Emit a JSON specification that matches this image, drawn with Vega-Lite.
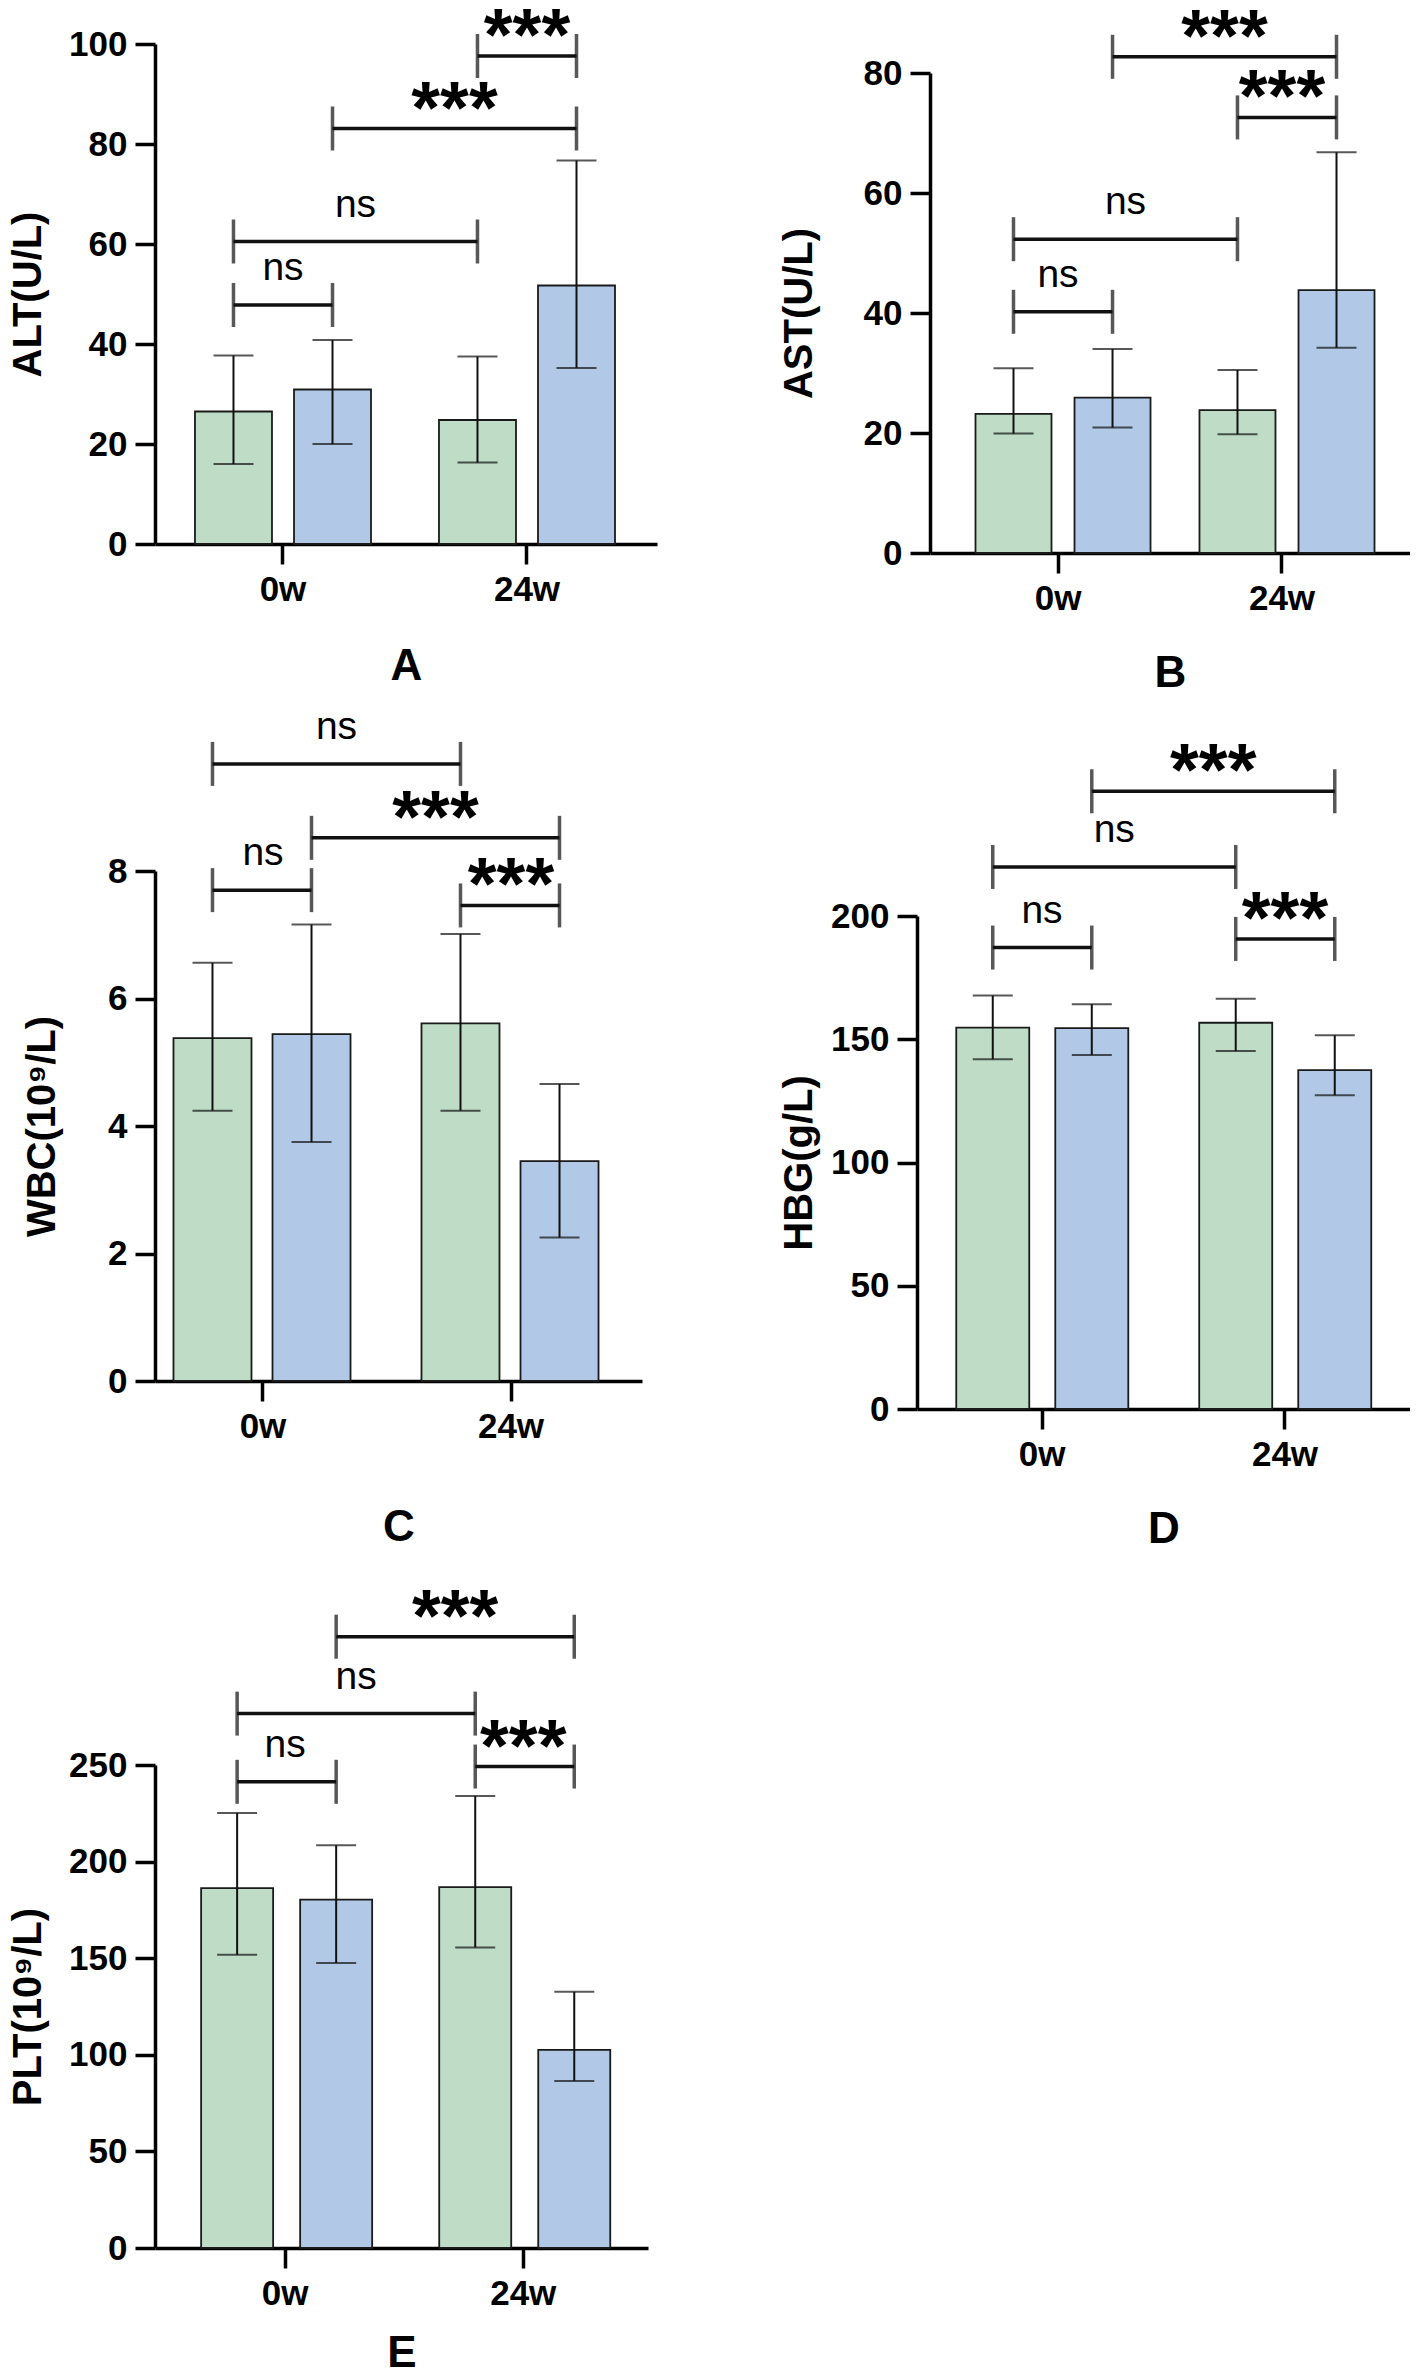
{
  "$schema": "https://vega.github.io/schema/vega-lite/v6.json",
  "background": "white",
  "padding": {"left": 8, "top": 0, "right": 0, "bottom": 0},
  "columns": 2,
  "align": "none",
  "spacing": {"row": 0, "column": 122},
  "config": {
    "view": {"stroke": null},
    "font": "Liberation Sans",
    "axis": {"domainColor": "#000", "domainWidth": 3.5, "tickColor": "#000", "tickWidth": 3.5, "tickSize": 20, "labelColor": "#000", "labelFont": "Liberation Sans", "labelFontSize": 35, "labelFontWeight": "bold", "labelPadding": 8, "titleColor": "#000", "titleFont": "Liberation Sans", "titleFontWeight": "bold", "grid": false, "labelOverlap": false, "labelFlush": false},
    "axisY": {"titleFontSize": 40, "format": "d"},
    "axisX": {"titleFontSize": 44, "labelAngle": 0}
  },
  "datasets": {
    "bars": [
      {"panel": "A", "time": "0w", "arm": "Group 1", "mean": 26.5, "lo": 16.0, "hi": 37.7},
      {"panel": "A", "time": "0w", "arm": "Group 2", "mean": 30.9, "lo": 20.0, "hi": 40.8},
      {"panel": "A", "time": "24w", "arm": "Group 1", "mean": 24.8, "lo": 16.3, "hi": 37.5},
      {"panel": "A", "time": "24w", "arm": "Group 2", "mean": 51.7, "lo": 35.2, "hi": 76.7},
      {"panel": "B", "time": "0w", "arm": "Group 1", "mean": 23.2, "lo": 19.9, "hi": 30.8},
      {"panel": "B", "time": "0w", "arm": "Group 2", "mean": 25.9, "lo": 20.9, "hi": 34.0},
      {"panel": "B", "time": "24w", "arm": "Group 1", "mean": 23.8, "lo": 19.8, "hi": 30.5},
      {"panel": "B", "time": "24w", "arm": "Group 2", "mean": 43.8, "lo": 34.2, "hi": 66.8},
      {"panel": "C", "time": "0w", "arm": "Group 1", "mean": 5.38, "lo": 4.24, "hi": 6.56},
      {"panel": "C", "time": "0w", "arm": "Group 2", "mean": 5.44, "lo": 3.75, "hi": 7.16},
      {"panel": "C", "time": "24w", "arm": "Group 1", "mean": 5.61, "lo": 4.24, "hi": 7.01},
      {"panel": "C", "time": "24w", "arm": "Group 2", "mean": 3.45, "lo": 2.25, "hi": 4.66},
      {"panel": "D", "time": "0w", "arm": "Group 1", "mean": 154.7, "lo": 141.9, "hi": 167.7},
      {"panel": "D", "time": "0w", "arm": "Group 2", "mean": 154.5, "lo": 143.6, "hi": 164.2},
      {"panel": "D", "time": "24w", "arm": "Group 1", "mean": 156.7, "lo": 145.2, "hi": 166.4},
      {"panel": "D", "time": "24w", "arm": "Group 2", "mean": 137.5, "lo": 127.3, "hi": 151.6},
      {"panel": "E", "time": "0w", "arm": "Group 1", "mean": 186.3, "lo": 151.8, "hi": 225.1},
      {"panel": "E", "time": "0w", "arm": "Group 2", "mean": 180.3, "lo": 147.5, "hi": 208.5},
      {"panel": "E", "time": "24w", "arm": "Group 1", "mean": 186.8, "lo": 155.6, "hi": 234.0},
      {"panel": "E", "time": "24w", "arm": "Group 2", "mean": 102.5, "lo": 86.5, "hi": 132.6}
    ],
    "brackets": [
      {"panel": "A", "id": "A1", "time": "0w", "arm": "Group 1", "level": 47.8},
      {"panel": "A", "id": "A1", "time": "0w", "arm": "Group 2", "level": 47.8},
      {"panel": "A", "id": "A2", "time": "0w", "arm": "Group 1", "level": 60.5},
      {"panel": "A", "id": "A2", "time": "24w", "arm": "Group 1", "level": 60.5},
      {"panel": "A", "id": "A3", "time": "0w", "arm": "Group 2", "level": 83.1},
      {"panel": "A", "id": "A3", "time": "24w", "arm": "Group 2", "level": 83.1},
      {"panel": "A", "id": "A4", "time": "24w", "arm": "Group 1", "level": 97.6},
      {"panel": "A", "id": "A4", "time": "24w", "arm": "Group 2", "level": 97.6},
      {"panel": "B", "id": "B1", "time": "0w", "arm": "Group 1", "level": 40.2},
      {"panel": "B", "id": "B1", "time": "0w", "arm": "Group 2", "level": 40.2},
      {"panel": "B", "id": "B2", "time": "0w", "arm": "Group 1", "level": 52.3},
      {"panel": "B", "id": "B2", "time": "24w", "arm": "Group 1", "level": 52.3},
      {"panel": "B", "id": "B3", "time": "24w", "arm": "Group 1", "level": 72.6},
      {"panel": "B", "id": "B3", "time": "24w", "arm": "Group 2", "level": 72.6},
      {"panel": "B", "id": "B4", "time": "0w", "arm": "Group 2", "level": 82.7},
      {"panel": "B", "id": "B4", "time": "24w", "arm": "Group 2", "level": 82.7},
      {"panel": "C", "id": "C1", "time": "0w", "arm": "Group 1", "level": 7.70},
      {"panel": "C", "id": "C1", "time": "0w", "arm": "Group 2", "level": 7.70},
      {"panel": "C", "id": "C2", "time": "24w", "arm": "Group 1", "level": 7.46},
      {"panel": "C", "id": "C2", "time": "24w", "arm": "Group 2", "level": 7.46},
      {"panel": "C", "id": "C3", "time": "0w", "arm": "Group 2", "level": 8.52},
      {"panel": "C", "id": "C3", "time": "24w", "arm": "Group 2", "level": 8.52},
      {"panel": "C", "id": "C4", "time": "0w", "arm": "Group 1", "level": 9.68},
      {"panel": "C", "id": "C4", "time": "24w", "arm": "Group 1", "level": 9.68},
      {"panel": "D", "id": "D1", "time": "0w", "arm": "Group 1", "level": 187.2},
      {"panel": "D", "id": "D1", "time": "0w", "arm": "Group 2", "level": 187.2},
      {"panel": "D", "id": "D2", "time": "24w", "arm": "Group 1", "level": 190.7},
      {"panel": "D", "id": "D2", "time": "24w", "arm": "Group 2", "level": 190.7},
      {"panel": "D", "id": "D3", "time": "0w", "arm": "Group 1", "level": 219.9},
      {"panel": "D", "id": "D3", "time": "24w", "arm": "Group 1", "level": 219.9},
      {"panel": "D", "id": "D4", "time": "0w", "arm": "Group 2", "level": 250.6},
      {"panel": "D", "id": "D4", "time": "24w", "arm": "Group 2", "level": 250.6},
      {"panel": "E", "id": "E1", "time": "0w", "arm": "Group 1", "level": 241.3},
      {"panel": "E", "id": "E1", "time": "0w", "arm": "Group 2", "level": 241.3},
      {"panel": "E", "id": "E2", "time": "24w", "arm": "Group 1", "level": 249.2},
      {"panel": "E", "id": "E2", "time": "24w", "arm": "Group 2", "level": 249.2},
      {"panel": "E", "id": "E3", "time": "0w", "arm": "Group 1", "level": 276.6},
      {"panel": "E", "id": "E3", "time": "24w", "arm": "Group 1", "level": 276.6},
      {"panel": "E", "id": "E4", "time": "0w", "arm": "Group 2", "level": 316.4},
      {"panel": "E", "id": "E4", "time": "24w", "arm": "Group 2", "level": 316.4}
    ],
    "labels": [
      {"panel": "A", "span": "0w", "arm": "both", "level": 47.8, "label": "ns"},
      {"panel": "A", "span": "0w–24w", "arm": "Group 1", "level": 60.5, "label": "ns"},
      {"panel": "A", "span": "0w–24w", "arm": "Group 2", "level": 83.1, "label": "***"},
      {"panel": "A", "span": "24w", "arm": "both", "level": 97.6, "label": "***"},
      {"panel": "B", "span": "0w", "arm": "both", "level": 40.2, "label": "ns"},
      {"panel": "B", "span": "0w–24w", "arm": "Group 1", "level": 52.3, "label": "ns"},
      {"panel": "B", "span": "24w", "arm": "both", "level": 72.6, "label": "***"},
      {"panel": "B", "span": "0w–24w", "arm": "Group 2", "level": 82.7, "label": "***"},
      {"panel": "C", "span": "0w", "arm": "both", "level": 7.70, "label": "ns"},
      {"panel": "C", "span": "24w", "arm": "both", "level": 7.46, "label": "***"},
      {"panel": "C", "span": "0w–24w", "arm": "Group 2", "level": 8.52, "label": "***"},
      {"panel": "C", "span": "0w–24w", "arm": "Group 1", "level": 9.68, "label": "ns"},
      {"panel": "D", "span": "0w", "arm": "both", "level": 187.2, "label": "ns"},
      {"panel": "D", "span": "24w", "arm": "both", "level": 190.7, "label": "***"},
      {"panel": "D", "span": "0w–24w", "arm": "Group 1", "level": 219.9, "label": "ns"},
      {"panel": "D", "span": "0w–24w", "arm": "Group 2", "level": 250.6, "label": "***"},
      {"panel": "E", "span": "0w", "arm": "both", "level": 241.3, "label": "ns"},
      {"panel": "E", "span": "24w", "arm": "both", "level": 249.2, "label": "***"},
      {"panel": "E", "span": "0w–24w", "arm": "Group 1", "level": 276.6, "label": "ns"},
      {"panel": "E", "span": "0w–24w", "arm": "Group 2", "level": 316.4, "label": "***"}
    ]
  },
  "concat": [
    {"width": 1, "height": 1, "data": {"values": []}, "mark": "point"},
    {"width": 1, "height": 1, "data": {"values": []}, "mark": "point"},
    {
      "width": 502, "height": 500,
      "encoding": {"x": {"field": "time", "type": "nominal", "scale": {"domain": ["0w", "0w–24w", "24w"], "paddingInner": 0, "paddingOuter": 0.5574, "align": 0.4926}, "axis": {"values": ["0w", "24w"], "title": ["A", ""], "titlePadding": 37, "titleLineHeight": 19}}},
      "layer": [
        {"data": {"name": "bars"}, "transform": [{"filter": "datum.panel === 'A'"}],
         "mark": {"type": "bar", "width": 77, "stroke": "#1a1a1a", "strokeWidth": 1.8},
         "encoding": {"xOffset": {"field": "arm", "type": "nominal", "scale": {"type": "point", "domain": ["Group 1", "Group 2"], "padding": 0.116}},
                      "y": {"field": "mean", "type": "quantitative", "stack": null, "scale": {"domain": [0, 100], "nice": false}, "axis": {"values": [0, 20, 40, 60, 80, 100], "title": "ALT(U/L)", "titlePadding": 20}},
                      "color": {"field": "arm", "type": "nominal", "scale": {"domain": ["Group 1", "Group 2"], "range": ["#bfddc6", "#b1c9e6"]}, "legend": null}}},
        {"data": {"name": "bars"}, "transform": [{"filter": "datum.panel === 'A'"}],
         "mark": {"type": "rule", "color": "#111", "strokeWidth": 2},
         "encoding": {"xOffset": {"field": "arm", "type": "nominal", "scale": {"type": "point", "domain": ["Group 1", "Group 2"], "padding": 0.116}}, "y": {"field": "lo", "type": "quantitative"}, "y2": {"field": "hi"}}},
        {"data": {"name": "bars"}, "transform": [{"filter": "datum.panel === 'A'"}, {"fold": ["lo", "hi"], "as": ["end", "val"]}],
         "mark": {"type": "tick", "orient": "horizontal", "size": 40, "thickness": 2, "color": "#111"},
         "encoding": {"xOffset": {"field": "arm", "type": "nominal", "scale": {"type": "point", "domain": ["Group 1", "Group 2"], "padding": 0.116}}, "y": {"field": "val", "type": "quantitative"}}},
        {"data": {"name": "brackets"}, "transform": [{"filter": "datum.panel === 'A'"}],
         "mark": {"type": "line", "color": "#111", "strokeWidth": 3.5},
         "encoding": {"xOffset": {"field": "arm", "type": "nominal", "scale": {"type": "point", "domain": ["Group 1", "Group 2"], "padding": 0.116}}, "y": {"field": "level", "type": "quantitative"}, "detail": {"field": "id"}}},
        {"data": {"name": "brackets"}, "transform": [{"filter": "datum.panel === 'A'"}],
         "mark": {"type": "tick", "orient": "vertical", "size": 44, "thickness": 3.5, "color": "#111"},
         "encoding": {"xOffset": {"field": "arm", "type": "nominal", "scale": {"type": "point", "domain": ["Group 1", "Group 2"], "padding": 0.116}}, "y": {"field": "level", "type": "quantitative"}}},
        {"data": {"name": "labels"}, "transform": [{"filter": "datum.panel === 'A' && datum.arm === 'both' && datum.label === 'ns'"}],
         "mark": {"type": "text", "fontSize": 39, "fontWeight": "normal", "baseline": "alphabetic", "dy": -25, "color": "#000"},
         "encoding": {"x": {"field": "span", "type": "nominal", "scale": {"domain": ["0w", "0w–24w", "24w"], "paddingInner": 0, "paddingOuter": 0.5574, "align": 0.4926}}, "y": {"field": "level", "type": "quantitative"}, "text": {"field": "label"}}},
        {"data": {"name": "labels"}, "transform": [{"filter": "datum.panel === 'A' && datum.arm === 'both' && datum.label === '***'"}],
         "mark": {"type": "text", "fontSize": 74, "fontWeight": "bold", "baseline": "alphabetic", "dy": 4, "color": "#000"},
         "encoding": {"x": {"field": "span", "type": "nominal", "scale": {"domain": ["0w", "0w–24w", "24w"], "paddingInner": 0, "paddingOuter": 0.5574, "align": 0.4926}}, "y": {"field": "level", "type": "quantitative"}, "text": {"field": "label"}}},
        {"data": {"name": "labels"}, "transform": [{"filter": "datum.panel === 'A' && datum.arm !== 'both' && datum.label === 'ns'"}],
         "mark": {"type": "text", "fontSize": 39, "fontWeight": "normal", "baseline": "alphabetic", "dy": -25, "color": "#000"},
         "encoding": {"x": {"field": "span", "type": "nominal", "scale": {"domain": ["0w", "0w–24w", "24w"], "paddingInner": 0, "paddingOuter": 0.5574, "align": 0.4926}}, "xOffset": {"field": "arm", "type": "nominal", "scale": {"type": "point", "domain": ["Group 1", "Group 2"], "padding": 0.116}}, "y": {"field": "level", "type": "quantitative"}, "text": {"field": "label"}}},
        {"data": {"name": "labels"}, "transform": [{"filter": "datum.panel === 'A' && datum.arm !== 'both' && datum.label === '***'"}],
         "mark": {"type": "text", "fontSize": 74, "fontWeight": "bold", "baseline": "alphabetic", "dy": 4, "color": "#000"},
         "encoding": {"x": {"field": "span", "type": "nominal", "scale": {"domain": ["0w", "0w–24w", "24w"], "paddingInner": 0, "paddingOuter": 0.5574, "align": 0.4926}}, "xOffset": {"field": "arm", "type": "nominal", "scale": {"type": "point", "domain": ["Group 1", "Group 2"], "padding": 0.116}}, "y": {"field": "level", "type": "quantitative"}, "text": {"field": "label"}}}
      ]
    },
    {
      "width": 480, "height": 480,
      "encoding": {"x": {"field": "time", "type": "nominal", "scale": {"domain": ["0w", "0w–24w", "24w"], "paddingInner": 0, "paddingOuter": 0.643}, "axis": {"values": ["0w", "24w"], "title": "B", "titlePadding": 35}}},
      "layer": [
        {"data": {"name": "bars"}, "transform": [{"filter": "datum.panel === 'B'"}],
         "mark": {"type": "bar", "width": 76, "stroke": "#1a1a1a", "strokeWidth": 1.8},
         "encoding": {"xOffset": {"field": "arm", "type": "nominal", "scale": {"type": "point", "domain": ["Group 1", "Group 2"], "padding": 0.0738}},
                      "y": {"field": "mean", "type": "quantitative", "stack": null, "scale": {"domain": [0, 80], "nice": false}, "axis": {"values": [0, 20, 40, 60, 80], "title": "AST(U/L)", "titlePadding": 43.5}},
                      "color": {"field": "arm", "type": "nominal", "scale": {"domain": ["Group 1", "Group 2"], "range": ["#bfddc6", "#b1c9e6"]}, "legend": null}}},
        {"data": {"name": "bars"}, "transform": [{"filter": "datum.panel === 'B'"}],
         "mark": {"type": "rule", "color": "#111", "strokeWidth": 2},
         "encoding": {"xOffset": {"field": "arm", "type": "nominal", "scale": {"type": "point", "domain": ["Group 1", "Group 2"], "padding": 0.0738}}, "y": {"field": "lo", "type": "quantitative"}, "y2": {"field": "hi"}}},
        {"data": {"name": "bars"}, "transform": [{"filter": "datum.panel === 'B'"}, {"fold": ["lo", "hi"], "as": ["end", "val"]}],
         "mark": {"type": "tick", "orient": "horizontal", "size": 40, "thickness": 2, "color": "#111"},
         "encoding": {"xOffset": {"field": "arm", "type": "nominal", "scale": {"type": "point", "domain": ["Group 1", "Group 2"], "padding": 0.0738}}, "y": {"field": "val", "type": "quantitative"}}},
        {"data": {"name": "brackets"}, "transform": [{"filter": "datum.panel === 'B'"}],
         "mark": {"type": "line", "color": "#111", "strokeWidth": 3.5},
         "encoding": {"xOffset": {"field": "arm", "type": "nominal", "scale": {"type": "point", "domain": ["Group 1", "Group 2"], "padding": 0.0738}}, "y": {"field": "level", "type": "quantitative"}, "detail": {"field": "id"}}},
        {"data": {"name": "brackets"}, "transform": [{"filter": "datum.panel === 'B'"}],
         "mark": {"type": "tick", "orient": "vertical", "size": 44, "thickness": 3.5, "color": "#111"},
         "encoding": {"xOffset": {"field": "arm", "type": "nominal", "scale": {"type": "point", "domain": ["Group 1", "Group 2"], "padding": 0.0738}}, "y": {"field": "level", "type": "quantitative"}}},
        {"data": {"name": "labels"}, "transform": [{"filter": "datum.panel === 'B' && datum.arm === 'both' && datum.label === 'ns'"}],
         "mark": {"type": "text", "fontSize": 39, "fontWeight": "normal", "baseline": "alphabetic", "dy": -25, "color": "#000"},
         "encoding": {"x": {"field": "span", "type": "nominal", "scale": {"domain": ["0w", "0w–24w", "24w"], "paddingInner": 0, "paddingOuter": 0.643}}, "y": {"field": "level", "type": "quantitative"}, "text": {"field": "label"}}},
        {"data": {"name": "labels"}, "transform": [{"filter": "datum.panel === 'B' && datum.arm === 'both' && datum.label === '***'"}],
         "mark": {"type": "text", "fontSize": 74, "fontWeight": "bold", "baseline": "alphabetic", "dy": 4, "color": "#000"},
         "encoding": {"x": {"field": "span", "type": "nominal", "scale": {"domain": ["0w", "0w–24w", "24w"], "paddingInner": 0, "paddingOuter": 0.643}}, "y": {"field": "level", "type": "quantitative"}, "text": {"field": "label"}}},
        {"data": {"name": "labels"}, "transform": [{"filter": "datum.panel === 'B' && datum.arm !== 'both' && datum.label === 'ns'"}],
         "mark": {"type": "text", "fontSize": 39, "fontWeight": "normal", "baseline": "alphabetic", "dy": -25, "color": "#000"},
         "encoding": {"x": {"field": "span", "type": "nominal", "scale": {"domain": ["0w", "0w–24w", "24w"], "paddingInner": 0, "paddingOuter": 0.643}}, "xOffset": {"field": "arm", "type": "nominal", "scale": {"type": "point", "domain": ["Group 1", "Group 2"], "padding": 0.0738}}, "y": {"field": "level", "type": "quantitative"}, "text": {"field": "label"}}},
        {"data": {"name": "labels"}, "transform": [{"filter": "datum.panel === 'B' && datum.arm !== 'both' && datum.label === '***'"}],
         "mark": {"type": "text", "fontSize": 74, "fontWeight": "bold", "baseline": "alphabetic", "dy": 4, "color": "#000"},
         "encoding": {"x": {"field": "span", "type": "nominal", "scale": {"domain": ["0w", "0w–24w", "24w"], "paddingInner": 0, "paddingOuter": 0.643}}, "xOffset": {"field": "arm", "type": "nominal", "scale": {"type": "point", "domain": ["Group 1", "Group 2"], "padding": 0.0738}}, "y": {"field": "level", "type": "quantitative"}, "text": {"field": "label"}}}
      ]
    },
    {
      "width": 487, "height": 510,
      "encoding": {"x": {"field": "time", "type": "nominal", "scale": {"domain": ["0w", "0w–24w", "24w"], "paddingInner": 0, "paddingOuter": 0.4637, "align": 0.4}, "axis": {"values": ["0w", "24w"], "title": ["C", ""], "titlePadding": 61, "titleLineHeight": 32}}},
      "layer": [
        {"data": {"name": "bars"}, "transform": [{"filter": "datum.panel === 'C'"}],
         "mark": {"type": "bar", "width": 78, "stroke": "#1a1a1a", "strokeWidth": 1.8},
         "encoding": {"xOffset": {"field": "arm", "type": "nominal", "scale": {"type": "point", "domain": ["Group 1", "Group 2"], "padding": 0.096}},
                      "y": {"field": "mean", "type": "quantitative", "stack": null, "scale": {"domain": [0, 8], "nice": false}, "axis": {"values": [0, 2, 4, 6, 8], "title": "WBC(10⁹/L)", "titlePadding": 45}},
                      "color": {"field": "arm", "type": "nominal", "scale": {"domain": ["Group 1", "Group 2"], "range": ["#bfddc6", "#b1c9e6"]}, "legend": null}}},
        {"data": {"name": "bars"}, "transform": [{"filter": "datum.panel === 'C'"}],
         "mark": {"type": "rule", "color": "#111", "strokeWidth": 2},
         "encoding": {"xOffset": {"field": "arm", "type": "nominal", "scale": {"type": "point", "domain": ["Group 1", "Group 2"], "padding": 0.096}}, "y": {"field": "lo", "type": "quantitative"}, "y2": {"field": "hi"}}},
        {"data": {"name": "bars"}, "transform": [{"filter": "datum.panel === 'C'"}, {"fold": ["lo", "hi"], "as": ["end", "val"]}],
         "mark": {"type": "tick", "orient": "horizontal", "size": 40, "thickness": 2, "color": "#111"},
         "encoding": {"xOffset": {"field": "arm", "type": "nominal", "scale": {"type": "point", "domain": ["Group 1", "Group 2"], "padding": 0.096}}, "y": {"field": "val", "type": "quantitative"}}},
        {"data": {"name": "brackets"}, "transform": [{"filter": "datum.panel === 'C'"}],
         "mark": {"type": "line", "color": "#111", "strokeWidth": 3.5},
         "encoding": {"xOffset": {"field": "arm", "type": "nominal", "scale": {"type": "point", "domain": ["Group 1", "Group 2"], "padding": 0.096}}, "y": {"field": "level", "type": "quantitative"}, "detail": {"field": "id"}}},
        {"data": {"name": "brackets"}, "transform": [{"filter": "datum.panel === 'C'"}],
         "mark": {"type": "tick", "orient": "vertical", "size": 44, "thickness": 3.5, "color": "#111"},
         "encoding": {"xOffset": {"field": "arm", "type": "nominal", "scale": {"type": "point", "domain": ["Group 1", "Group 2"], "padding": 0.096}}, "y": {"field": "level", "type": "quantitative"}}},
        {"data": {"name": "labels"}, "transform": [{"filter": "datum.panel === 'C' && datum.arm === 'both' && datum.label === 'ns'"}],
         "mark": {"type": "text", "fontSize": 39, "fontWeight": "normal", "baseline": "alphabetic", "dy": -25, "color": "#000"},
         "encoding": {"x": {"field": "span", "type": "nominal", "scale": {"domain": ["0w", "0w–24w", "24w"], "paddingInner": 0, "paddingOuter": 0.4637, "align": 0.4}}, "y": {"field": "level", "type": "quantitative"}, "text": {"field": "label"}}},
        {"data": {"name": "labels"}, "transform": [{"filter": "datum.panel === 'C' && datum.arm === 'both' && datum.label === '***'"}],
         "mark": {"type": "text", "fontSize": 74, "fontWeight": "bold", "baseline": "alphabetic", "dy": 4, "color": "#000"},
         "encoding": {"x": {"field": "span", "type": "nominal", "scale": {"domain": ["0w", "0w–24w", "24w"], "paddingInner": 0, "paddingOuter": 0.4637, "align": 0.4}}, "y": {"field": "level", "type": "quantitative"}, "text": {"field": "label"}}},
        {"data": {"name": "labels"}, "transform": [{"filter": "datum.panel === 'C' && datum.arm !== 'both' && datum.label === 'ns'"}],
         "mark": {"type": "text", "fontSize": 39, "fontWeight": "normal", "baseline": "alphabetic", "dy": -25, "color": "#000"},
         "encoding": {"x": {"field": "span", "type": "nominal", "scale": {"domain": ["0w", "0w–24w", "24w"], "paddingInner": 0, "paddingOuter": 0.4637, "align": 0.4}}, "xOffset": {"field": "arm", "type": "nominal", "scale": {"type": "point", "domain": ["Group 1", "Group 2"], "padding": 0.096}}, "y": {"field": "level", "type": "quantitative"}, "text": {"field": "label"}}},
        {"data": {"name": "labels"}, "transform": [{"filter": "datum.panel === 'C' && datum.arm !== 'both' && datum.label === '***'"}],
         "mark": {"type": "text", "fontSize": 74, "fontWeight": "bold", "baseline": "alphabetic", "dy": 4, "color": "#000"},
         "encoding": {"x": {"field": "span", "type": "nominal", "scale": {"domain": ["0w", "0w–24w", "24w"], "paddingInner": 0, "paddingOuter": 0.4637, "align": 0.4}}, "xOffset": {"field": "arm", "type": "nominal", "scale": {"type": "point", "domain": ["Group 1", "Group 2"], "padding": 0.096}}, "y": {"field": "level", "type": "quantitative"}, "text": {"field": "label"}}}
      ]
    },
    {
      "width": 493, "height": 493,
      "encoding": {"x": {"field": "time", "type": "nominal", "scale": {"domain": ["0w", "0w–24w", "24w"], "paddingInner": 0, "paddingOuter": 0.529}, "axis": {"values": ["0w", "24w"], "title": "D", "titlePadding": 35}}},
      "layer": [
        {"data": {"name": "bars"}, "transform": [{"filter": "datum.panel === 'D'"}],
         "mark": {"type": "bar", "width": 73, "stroke": "#1a1a1a", "strokeWidth": 1.8},
         "encoding": {"xOffset": {"field": "arm", "type": "nominal", "scale": {"type": "point", "domain": ["Group 1", "Group 2"], "padding": 0.1136}},
                      "y": {"field": "mean", "type": "quantitative", "stack": null, "scale": {"domain": [0, 200], "nice": false}, "axis": {"values": [0, 50, 100, 150, 200], "title": "HBG(g/L)", "titlePadding": 11}},
                      "color": {"field": "arm", "type": "nominal", "scale": {"domain": ["Group 1", "Group 2"], "range": ["#bfddc6", "#b1c9e6"]}, "legend": null}}},
        {"data": {"name": "bars"}, "transform": [{"filter": "datum.panel === 'D'"}],
         "mark": {"type": "rule", "color": "#111", "strokeWidth": 2},
         "encoding": {"xOffset": {"field": "arm", "type": "nominal", "scale": {"type": "point", "domain": ["Group 1", "Group 2"], "padding": 0.1136}}, "y": {"field": "lo", "type": "quantitative"}, "y2": {"field": "hi"}}},
        {"data": {"name": "bars"}, "transform": [{"filter": "datum.panel === 'D'"}, {"fold": ["lo", "hi"], "as": ["end", "val"]}],
         "mark": {"type": "tick", "orient": "horizontal", "size": 40, "thickness": 2, "color": "#111"},
         "encoding": {"xOffset": {"field": "arm", "type": "nominal", "scale": {"type": "point", "domain": ["Group 1", "Group 2"], "padding": 0.1136}}, "y": {"field": "val", "type": "quantitative"}}},
        {"data": {"name": "brackets"}, "transform": [{"filter": "datum.panel === 'D'"}],
         "mark": {"type": "line", "color": "#111", "strokeWidth": 3.5},
         "encoding": {"xOffset": {"field": "arm", "type": "nominal", "scale": {"type": "point", "domain": ["Group 1", "Group 2"], "padding": 0.1136}}, "y": {"field": "level", "type": "quantitative"}, "detail": {"field": "id"}}},
        {"data": {"name": "brackets"}, "transform": [{"filter": "datum.panel === 'D'"}],
         "mark": {"type": "tick", "orient": "vertical", "size": 44, "thickness": 3.5, "color": "#111"},
         "encoding": {"xOffset": {"field": "arm", "type": "nominal", "scale": {"type": "point", "domain": ["Group 1", "Group 2"], "padding": 0.1136}}, "y": {"field": "level", "type": "quantitative"}}},
        {"data": {"name": "labels"}, "transform": [{"filter": "datum.panel === 'D' && datum.arm === 'both' && datum.label === 'ns'"}],
         "mark": {"type": "text", "fontSize": 39, "fontWeight": "normal", "baseline": "alphabetic", "dy": -25, "color": "#000"},
         "encoding": {"x": {"field": "span", "type": "nominal", "scale": {"domain": ["0w", "0w–24w", "24w"], "paddingInner": 0, "paddingOuter": 0.529}}, "y": {"field": "level", "type": "quantitative"}, "text": {"field": "label"}}},
        {"data": {"name": "labels"}, "transform": [{"filter": "datum.panel === 'D' && datum.arm === 'both' && datum.label === '***'"}],
         "mark": {"type": "text", "fontSize": 74, "fontWeight": "bold", "baseline": "alphabetic", "dy": 4, "color": "#000"},
         "encoding": {"x": {"field": "span", "type": "nominal", "scale": {"domain": ["0w", "0w–24w", "24w"], "paddingInner": 0, "paddingOuter": 0.529}}, "y": {"field": "level", "type": "quantitative"}, "text": {"field": "label"}}},
        {"data": {"name": "labels"}, "transform": [{"filter": "datum.panel === 'D' && datum.arm !== 'both' && datum.label === 'ns'"}],
         "mark": {"type": "text", "fontSize": 39, "fontWeight": "normal", "baseline": "alphabetic", "dy": -25, "color": "#000"},
         "encoding": {"x": {"field": "span", "type": "nominal", "scale": {"domain": ["0w", "0w–24w", "24w"], "paddingInner": 0, "paddingOuter": 0.529}}, "xOffset": {"field": "arm", "type": "nominal", "scale": {"type": "point", "domain": ["Group 1", "Group 2"], "padding": 0.1136}}, "y": {"field": "level", "type": "quantitative"}, "text": {"field": "label"}}},
        {"data": {"name": "labels"}, "transform": [{"filter": "datum.panel === 'D' && datum.arm !== 'both' && datum.label === '***'"}],
         "mark": {"type": "text", "fontSize": 74, "fontWeight": "bold", "baseline": "alphabetic", "dy": 4, "color": "#000"},
         "encoding": {"x": {"field": "span", "type": "nominal", "scale": {"domain": ["0w", "0w–24w", "24w"], "paddingInner": 0, "paddingOuter": 0.529}}, "xOffset": {"field": "arm", "type": "nominal", "scale": {"type": "point", "domain": ["Group 1", "Group 2"], "padding": 0.1136}}, "y": {"field": "level", "type": "quantitative"}, "text": {"field": "label"}}}
      ]
    },
    {
      "width": 493, "height": 483,
      "encoding": {"x": {"field": "time", "type": "nominal", "scale": {"domain": ["0w", "0w–24w", "24w"], "paddingInner": 0, "paddingOuter": 0.5706, "align": 0.52}, "axis": {"values": ["0w", "24w"], "title": "E", "titlePadding": 20}}},
      "layer": [
        {"data": {"name": "bars"}, "transform": [{"filter": "datum.panel === 'E'"}],
         "mark": {"type": "bar", "width": 72, "stroke": "#1a1a1a", "strokeWidth": 1.8},
         "encoding": {"xOffset": {"field": "arm", "type": "nominal", "scale": {"type": "point", "domain": ["Group 1", "Group 2"], "padding": 0.115}},
                      "y": {"field": "mean", "type": "quantitative", "stack": null, "scale": {"domain": [0, 250], "nice": false}, "axis": {"values": [0, 50, 100, 150, 200, 250], "title": "PLT(10⁹/L)", "titlePadding": 20}},
                      "color": {"field": "arm", "type": "nominal", "scale": {"domain": ["Group 1", "Group 2"], "range": ["#bfddc6", "#b1c9e6"]}, "legend": null}}},
        {"data": {"name": "bars"}, "transform": [{"filter": "datum.panel === 'E'"}],
         "mark": {"type": "rule", "color": "#111", "strokeWidth": 2},
         "encoding": {"xOffset": {"field": "arm", "type": "nominal", "scale": {"type": "point", "domain": ["Group 1", "Group 2"], "padding": 0.115}}, "y": {"field": "lo", "type": "quantitative"}, "y2": {"field": "hi"}}},
        {"data": {"name": "bars"}, "transform": [{"filter": "datum.panel === 'E'"}, {"fold": ["lo", "hi"], "as": ["end", "val"]}],
         "mark": {"type": "tick", "orient": "horizontal", "size": 40, "thickness": 2, "color": "#111"},
         "encoding": {"xOffset": {"field": "arm", "type": "nominal", "scale": {"type": "point", "domain": ["Group 1", "Group 2"], "padding": 0.115}}, "y": {"field": "val", "type": "quantitative"}}},
        {"data": {"name": "brackets"}, "transform": [{"filter": "datum.panel === 'E'"}],
         "mark": {"type": "line", "color": "#111", "strokeWidth": 3.5},
         "encoding": {"xOffset": {"field": "arm", "type": "nominal", "scale": {"type": "point", "domain": ["Group 1", "Group 2"], "padding": 0.115}}, "y": {"field": "level", "type": "quantitative"}, "detail": {"field": "id"}}},
        {"data": {"name": "brackets"}, "transform": [{"filter": "datum.panel === 'E'"}],
         "mark": {"type": "tick", "orient": "vertical", "size": 44, "thickness": 3.5, "color": "#111"},
         "encoding": {"xOffset": {"field": "arm", "type": "nominal", "scale": {"type": "point", "domain": ["Group 1", "Group 2"], "padding": 0.115}}, "y": {"field": "level", "type": "quantitative"}}},
        {"data": {"name": "labels"}, "transform": [{"filter": "datum.panel === 'E' && datum.arm === 'both' && datum.label === 'ns'"}],
         "mark": {"type": "text", "fontSize": 39, "fontWeight": "normal", "baseline": "alphabetic", "dy": -25, "color": "#000"},
         "encoding": {"x": {"field": "span", "type": "nominal", "scale": {"domain": ["0w", "0w–24w", "24w"], "paddingInner": 0, "paddingOuter": 0.5706, "align": 0.52}}, "y": {"field": "level", "type": "quantitative"}, "text": {"field": "label"}}},
        {"data": {"name": "labels"}, "transform": [{"filter": "datum.panel === 'E' && datum.arm === 'both' && datum.label === '***'"}],
         "mark": {"type": "text", "fontSize": 74, "fontWeight": "bold", "baseline": "alphabetic", "dy": 4, "color": "#000"},
         "encoding": {"x": {"field": "span", "type": "nominal", "scale": {"domain": ["0w", "0w–24w", "24w"], "paddingInner": 0, "paddingOuter": 0.5706, "align": 0.52}}, "y": {"field": "level", "type": "quantitative"}, "text": {"field": "label"}}},
        {"data": {"name": "labels"}, "transform": [{"filter": "datum.panel === 'E' && datum.arm !== 'both' && datum.label === 'ns'"}],
         "mark": {"type": "text", "fontSize": 39, "fontWeight": "normal", "baseline": "alphabetic", "dy": -25, "color": "#000"},
         "encoding": {"x": {"field": "span", "type": "nominal", "scale": {"domain": ["0w", "0w–24w", "24w"], "paddingInner": 0, "paddingOuter": 0.5706, "align": 0.52}}, "xOffset": {"field": "arm", "type": "nominal", "scale": {"type": "point", "domain": ["Group 1", "Group 2"], "padding": 0.115}}, "y": {"field": "level", "type": "quantitative"}, "text": {"field": "label"}}},
        {"data": {"name": "labels"}, "transform": [{"filter": "datum.panel === 'E' && datum.arm !== 'both' && datum.label === '***'"}],
         "mark": {"type": "text", "fontSize": 74, "fontWeight": "bold", "baseline": "alphabetic", "dy": 4, "color": "#000"},
         "encoding": {"x": {"field": "span", "type": "nominal", "scale": {"domain": ["0w", "0w–24w", "24w"], "paddingInner": 0, "paddingOuter": 0.5706, "align": 0.52}}, "xOffset": {"field": "arm", "type": "nominal", "scale": {"type": "point", "domain": ["Group 1", "Group 2"], "padding": 0.115}}, "y": {"field": "level", "type": "quantitative"}, "text": {"field": "label"}}}
      ]
    }
  ]
}
